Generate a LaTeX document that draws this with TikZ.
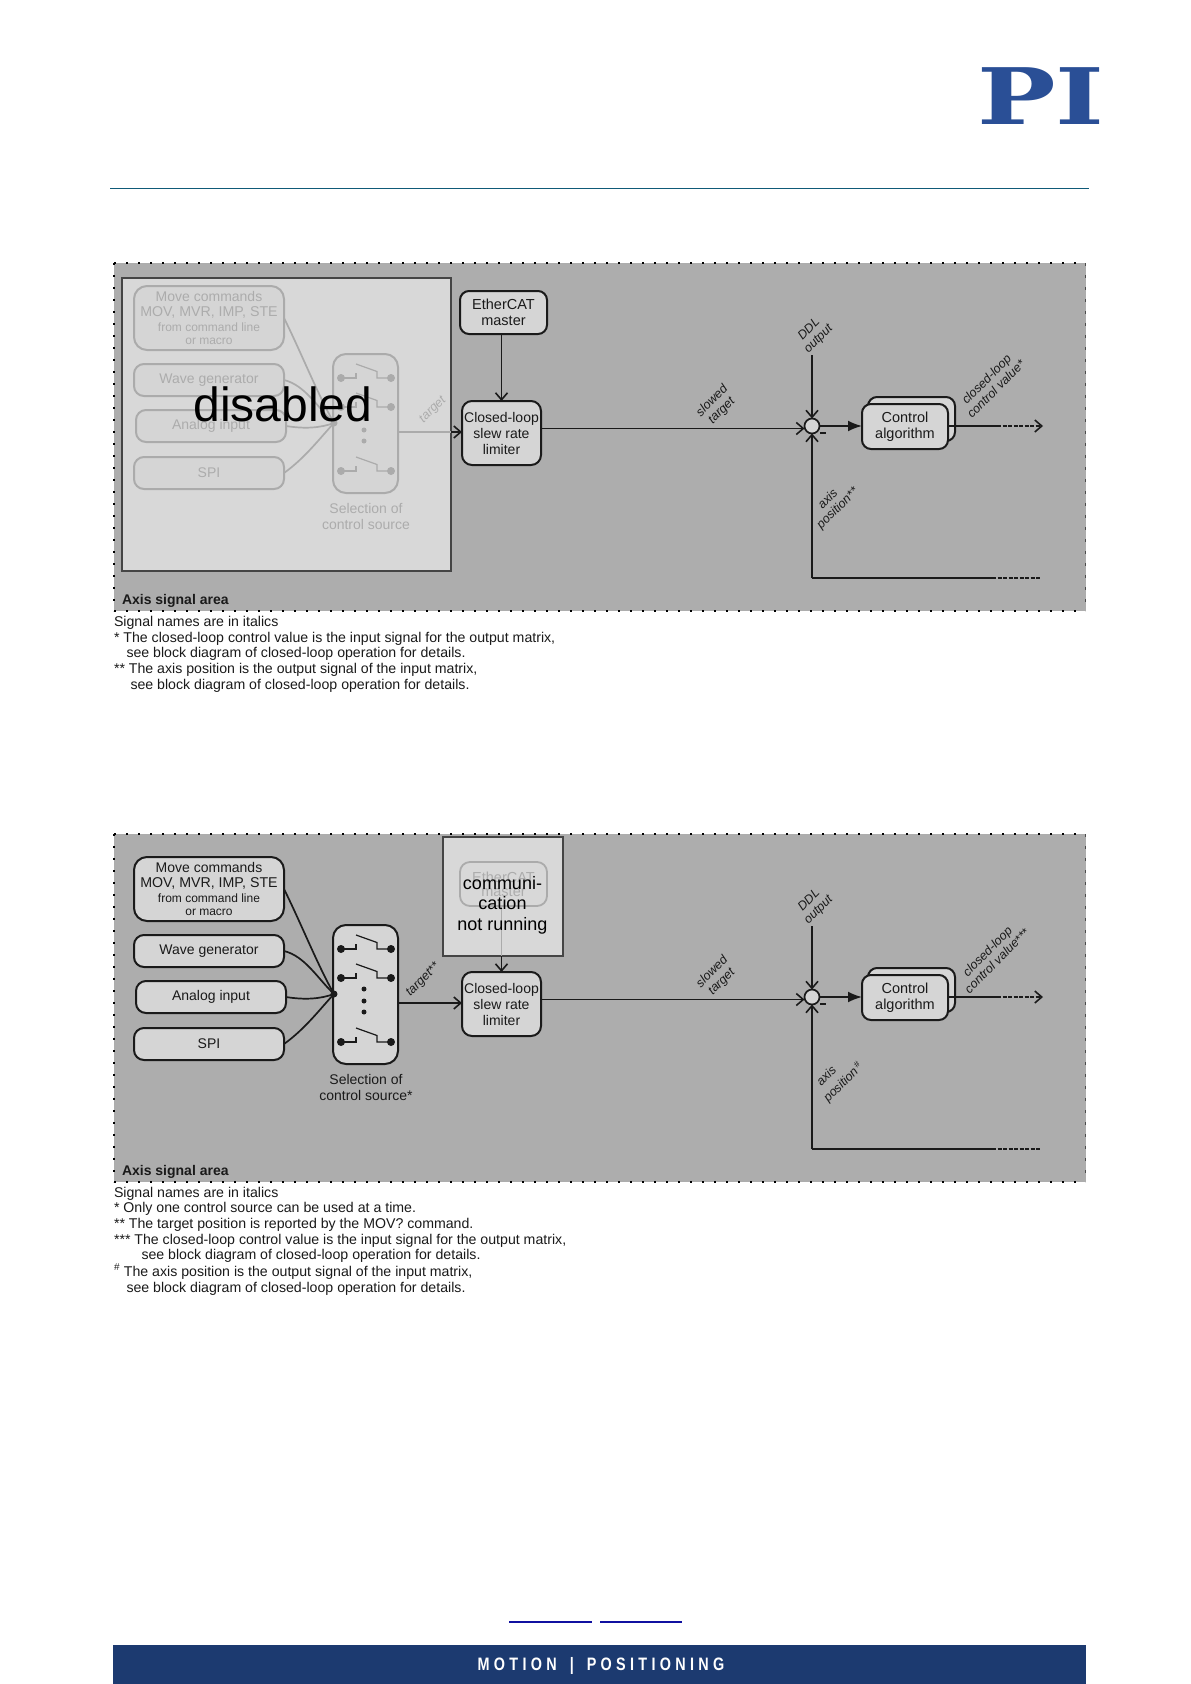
\documentclass[tikz,border=0pt]{standalone}
\usepackage{fontspec}
\setmainfont{Liberation Sans}
\newfontfamily\logofont{DejaVu Serif}[BoldFont={DejaVu Serif Bold}]
\newfontfamily\barfont[LetterSpace=30]{Liberation Sans}
\usetikzlibrary{arrows.meta}
\definecolor{areagray}{HTML}{ADADAD}
\definecolor{boxgray}{HTML}{D5D5D5}
\definecolor{veilgray}{HTML}{D8D8D8}
\definecolor{veilline}{HTML}{454545}
\definecolor{fadeline}{HTML}{ABABAB}
\definecolor{fadetext}{HTML}{ACACAC}
\definecolor{inkdark}{HTML}{1A1A1A}
\definecolor{pinavy}{HTML}{2A4F96}
\definecolor{barnavy}{HTML}{1C3A70}
\definecolor{ruleteal}{HTML}{0F5A78}
\definecolor{linkblue}{HTML}{1010A0}
\newcommand{\fsz}[1]{\fontsize{#1}{16}\selectfont}
\tikzset{
  x=1pt,y=-1pt,
  every node/.style={inner sep=0pt,outer sep=0pt},
  block/.style={draw=inkdark,fill=boxgray,line width=2pt,rounded corners=9pt,align=center,text=inkdark,font=\fsz{14}},
  srcblock/.style={draw=srcink,fill=boxgray,line width=2pt,rounded corners=#1,align=center,text=srctext,font=\fsz{14}},
  srcblock/.default=10pt,
  wire/.style={draw=inkdark,line width=1.8pt},
  thinwire/.style={draw=inkdark,line width=1.3pt},
  srcwire/.style={draw=srcink,line width=1.7pt},
  openarrow/.style={-{Straight Barb[length=7pt,width=12pt,line width=1.6pt]}},
  signal/.style={rotate=45,align=center,font=\fontsize{12.5}{13.5}\selectfont\itshape,text=inkdark},
  note/.style={anchor=west,font=\fsz{14.15},text=inkdark},
  sumnode/.style={circle,draw=inkdark,fill=boxgray,line width=1.7pt,minimum size=15pt},
  veil/.style={draw=veilline,fill=veilgray,line width=2pt},
  bigword/.style={align=center,text=black},
  dottededge/.style={draw=black,line width=2pt,dash pattern=on 2pt off 10pt},
  fineedge/.style={draw=black!70,line width=1pt,dash pattern=on 3pt off 9pt},
}
% #1 prefix, #2 vertical offset
\newcommand{\areapanel}[2]{
  \begin{scope}[shift={(0,#2)}]
    \fill[areagray] (114,263) rectangle (1085.5,611);
    \draw[dottededge] (114,263) -- (1085.5,263);
    \draw[dottededge] (114,611) -- (1085.5,611);
    \draw[dottededge] (114,263) -- (114,611);
    \draw[fineedge] (1085.5,263) -- (1085.5,611);
    \node[anchor=west,font=\fsz{14}\bfseries,text=inkdark] (#1area) at (122,600.5) {Axis signal area};
  \end{scope}
}
% #1 prefix, #2 offset, #3 asterisk after source
\newcommand{\sources}[3]{
  \begin{scope}[shift={(0,#2)}]
    \node[srcblock=13pt,minimum width=150pt,minimum height=64pt] (#1move) at (209,318)
      {\fsz{14}Move commands\\[-1pt]\fsz{14.2}MOV, MVR, IMP, STE\\[-0.5pt]\fsz{12}from command line\\[-3pt]\fsz{12}or macro};
    \node[srcblock,minimum width=150pt,minimum height=32pt] (#1wave) at (209,380) {Wave generator};
    \node[srcblock,minimum width=150pt,minimum height=32pt] (#1analog) at (211,426) {Analog input};
    \node[srcblock,minimum width=150pt,minimum height=32pt] (#1spi) at (209,473) {SPI};
    \node[srcblock=13pt,minimum width=65pt,minimum height=139pt] (#1sel) at (365.5,423.5) {};
    \coordinate (#1hub) at (334,423);
    \fill[srcink] (#1hub) circle (3.5);
    \draw[srcwire] (#1move.east) .. controls (300,350) and (318,395) .. (#1hub);
    \draw[srcwire] (#1wave.east) .. controls (305,385) and (318,408) .. (#1hub);
    \draw[srcwire] (#1analog.east) .. controls (305,429) and (320,428) .. (#1hub);
    \draw[srcwire] (#1spi.east) .. controls (305,458) and (320,438) .. (#1hub);
    \foreach \yy in {378,407,471}{
      \fill[srcink] (341,\yy) circle (4) (391,\yy) circle (4);
      \draw[srcwire,line width=1.2pt] (341,\yy) -- (356,\yy) -- (356,\yy-5);
      \draw[srcwire,line width=1.2pt] (356,\yy-14) -- (377,\yy-6.5) -- (377,\yy) -- (391,\yy);
    }
    \foreach \yy in {418,430,441}{\fill[srcink] (364,\yy) circle (2.5);}
    \node[align=center,font=\fsz{14},text=srctext] (#1seltext) at (366,516) {Selection of\\control source#3};
  \end{scope}
}
% #1 prefix, #2 offset
\newcommand{\mainpath}[2]{
  \begin{scope}[shift={(0,#2)}]
    \node[block,rounded corners=10pt,minimum width=79pt,minimum height=64pt] (#1closed) at (501.5,433) {Closed-loop\\slew rate\\limiter};
    \node[sumnode] (#1sum) at (812,426) {};
    \node[block,minimum width=87pt,minimum height=44pt] (#1ctrlback) at (911.5,419) {};
    \node[block,minimum width=86pt,minimum height=45pt,font=\fsz{14.5}] (#1ctrl) at (905,426.5) {Control\\algorithm};
    \coordinate (#1ddl) at (812,355);
    \coordinate (#1corner) at (812,578);
    \coordinate (#1solidend) at (992,578);
    \coordinate (#1dashend) at (1041,578);
    \coordinate (#1outmid) at (997,426);
    \coordinate (#1outend) at (1043,426);
    \draw[thinwire,openarrow] ([yshift=4.5pt]#1closed.east) -- ([yshift=-2.5pt]#1sum.west);
    \draw[wire,openarrow] (#1ddl) -- (#1sum.north);
    \draw[wire,openarrow] (#1corner) -- (#1sum.south);
    \draw[wire] (#1corner) -- (#1solidend);
    \draw[wire,dash pattern=on 4pt off 1.5pt] (#1solidend) -- (#1dashend);
    \draw[wire,-{Latex[length=14pt,width=11pt]}] (#1sum.east) -- (#1ctrl.west |- #1sum.east);
    \draw[wire] (#1ctrl.east |- #1outmid) -- (#1outmid);
    \draw[wire,dash pattern=on 4pt off 1.5pt,openarrow] (#1outmid) -- (#1outend);
    \draw[wire] (820,433) -- (826,433);
    \node[signal] (#1slowed) at (717,406) {slowed\\target};
    \node[signal] (#1ddltext) at (814,334.5) {DDL\\output};
  \end{scope}
}
\begin{document}
\begin{tikzpicture}
\useasboundingbox (0,0) rectangle (1191,1684);
\fill[white] (0,0) rectangle (1191,1684);
% header
\node[font=\logofont\bfseries\fontsize{78}{80}\selectfont,text=pinavy,xscale=1.34] (logo) at (1041,96) {PI};
\draw[ruleteal,line width=1.2pt] (110,188.5) -- (1088.5,188.5);

% ---------- upper panel ----------
\areapanel{a}{0}
\node[veil,minimum width=329.3pt,minimum height=293pt] (aveil) at (286.35,424.5) {};
\colorlet{srcink}{fadeline}\colorlet{srctext}{fadetext}
\sources{a}{0}{}
\node[block,minimum width=87pt,minimum height=43pt,font=\fsz{14.5}] (aeth) at (503.5,312.5) {EtherCAT\\master};
\mainpath{a}{0}
\draw[draw=fadeline,line width=1.3pt] (asel.east |- 0,432) -- (aveil.east |- 0,432);
\draw[thinwire,openarrow] (aveil.east |- 0,432) -- (aclosed.west |- 0,432);
\draw[wire,openarrow] (aeth.south -| aclosed.north) -- (aclosed.north);
\node[signal,text=fadetext] (atarget) at (433,410) {target};
\node[signal] (aclv) at (991,384) {closed-loop\\control value*};
\node[signal] (aaxis) at (833,504) {axis\\position**};
\node[bigword,font=\fontsize{48}{50}\selectfont] (adisabled) at (283,404) {disabled};
\node[note] (an1) at (114,622.5) {Signal names are in italics};
\node[note] (an2) at (114,638.5) {* The closed-loop control value is the input signal for the output matrix,};
\node[note] (an3) at (126.5,653.5) {see block diagram of closed-loop operation for details.};
\node[note] (an4) at (114,669.5) {** The axis position is the output signal of the input matrix,};
\node[note] (an5) at (130.5,685.5) {see block diagram of closed-loop operation for details.};

% ---------- lower panel ----------
\areapanel{b}{571}
\colorlet{srcink}{inkdark}\colorlet{srctext}{inkdark}
\sources{b}{571}{*}
\mainpath{b}{571}
\draw[thinwire,openarrow] (bsel.east |- 0,1003) -- (bclosed.west |- 0,1003);
\node[veil,minimum width=120pt,minimum height=118.7pt] (bveil) at (502.7,896.3) {};
\node[draw=fadeline,fill=veilgray,line width=1.8pt,rounded corners=10pt,minimum width=87pt,minimum height=44pt] (beth) at (503.5,884) {};
\node[text=fadetext,font=\fsz{14.5}] (bethA) at (503.5,877) {EtherCAT};
\node[text=fadetext,font=\fsz{14.5}] (bethB) at (503.5,892) {master};
\draw[fadeline,line width=1.6pt] (beth.south -| bclosed.north) -- (bveil.south -| bclosed.north);
\draw[wire,openarrow] (bveil.south -| bclosed.north) -- (bclosed.north);
\node[bigword,font=\fontsize{18}{20.5}\selectfont] (bcomm) at (502.5,905) {communi-\\cation\\not running};
\node[signal] (btarget) at (423,980) {target**};
\node[signal] (bclv) at (992,956) {closed-loop\\control value***};
\node[signal] (baxis) at (838,1077) {axis\hspace{1.2em}\null\\[3pt]position\textsuperscript{\hspace{0.2em}\#}};
\node[note] (bn1) at (114,1193.5) {Signal names are in italics};
\node[note] (bn2) at (114,1208.5) {* Only one control source can be used at a time.};
\node[note] (bn3) at (114,1224.5) {** The target position is reported by the MOV? command.};
\node[note] (bn4) at (114,1240.5) {*** The closed-loop control value is the input signal for the output matrix,};
\node[note] (bn5) at (141.5,1255.5) {see block diagram of closed-loop operation for details.};
\node[note] (bn6) at (114,1271.5) {\textsuperscript{\#} The axis position is the output signal of the input matrix,};
\node[note] (bn7) at (126.5,1288.5) {see block diagram of closed-loop operation for details.};

% ---------- footer ----------
\draw[linkblue,line width=1.2pt] (509,1622) -- (592,1622);
\draw[linkblue,line width=1.2pt] (600,1622) -- (682,1622);
\fill[barnavy] (113,1645) rectangle (1085.5,1684);
\node[text=white,font=\barfont\bfseries\fontsize{18}{18}\selectfont,xscale=0.8] (barword) at (601,1666) {MOTION\hspace{0.9em}|\hspace{0.9em}POSITIONING};
\end{tikzpicture}
\end{document}
